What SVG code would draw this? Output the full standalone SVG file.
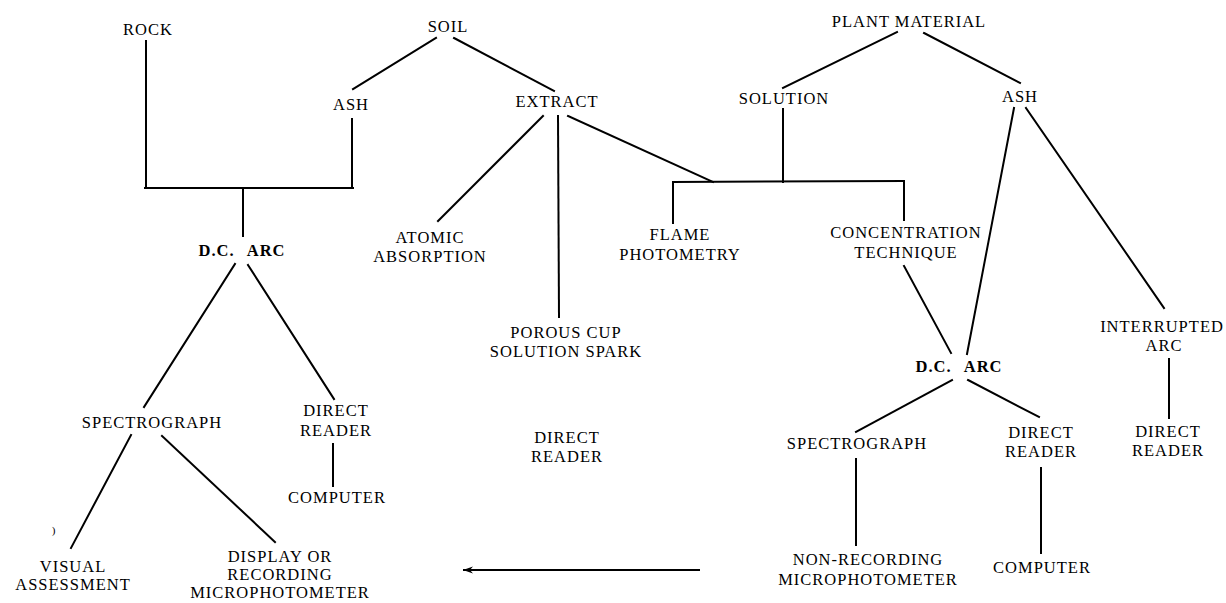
<svg xmlns="http://www.w3.org/2000/svg" width="1226" height="603" viewBox="0 0 1226 603">
<defs>
<style>
text{font-family:"Liberation Serif","Times New Roman",serif;font-size:16.5px;letter-spacing:1px;fill:#000;text-anchor:middle}
.b{font-weight:bold;word-spacing:8px}
#connectors line{stroke:#000;stroke-width:2;fill:none;stroke-linecap:square}
</style>
<marker id="ah" viewBox="0 0 10 8" refX="10" refY="4" markerWidth="10" markerHeight="8" markerUnits="userSpaceOnUse" orient="auto">
<path d="M10,4 L0,0.5 L3,4 L0,7.5 Z" fill="#000"/>
</marker>
</defs>
<rect width="1226" height="603" fill="#fff"/>
<g id="connectors">
<line x1="146" y1="41" x2="146" y2="188"/>
<line x1="145" y1="188" x2="353" y2="188"/>
<line x1="352" y1="119" x2="352" y2="188"/>
<line x1="243" y1="188" x2="243" y2="236"/>
<line x1="436" y1="38" x2="353" y2="89"/>
<line x1="454" y1="38" x2="554" y2="91"/>
<line x1="543" y1="116" x2="438" y2="221"/>
<line x1="558" y1="116" x2="559" y2="317"/>
<line x1="568" y1="116" x2="713" y2="182"/>
<line x1="673" y1="182" x2="904" y2="181"/>
<line x1="673" y1="182" x2="673" y2="223"/>
<line x1="783" y1="109" x2="783" y2="182"/>
<line x1="904" y1="181" x2="904" y2="220"/>
<line x1="783" y1="88" x2="897" y2="32"/>
<line x1="924" y1="33" x2="1020" y2="83"/>
<line x1="1014" y1="108" x2="967" y2="354"/>
<line x1="1026" y1="108" x2="1164" y2="308"/>
<line x1="904" y1="266" x2="951" y2="353"/>
<line x1="1169" y1="359" x2="1169" y2="418"/>
<line x1="952" y1="380" x2="856" y2="432"/>
<line x1="968" y1="380" x2="1039" y2="417"/>
<line x1="856" y1="459" x2="856" y2="545"/>
<line x1="1041" y1="468" x2="1041" y2="553"/>
<line x1="235" y1="264" x2="144" y2="407"/>
<line x1="248" y1="265" x2="334" y2="399"/>
<line x1="333" y1="444" x2="333" y2="486"/>
<line x1="131" y1="435" x2="71" y2="548"/>
<line x1="162" y1="436" x2="275" y2="542"/>
<line x1="700" y1="570" x2="463" y2="570" marker-end="url(#ah)" style="stroke-linecap:butt"/>
</g>
<g id="rock"><text x="148" y="35">ROCK</text></g>
<g id="soil"><text x="448" y="32">SOIL</text></g>
<g id="ash1"><text x="351" y="110">ASH</text></g>
<g id="extract"><text x="557" y="107">EXTRACT</text></g>
<g id="solution"><text x="784" y="104">SOLUTION</text></g>
<g id="plant"><text x="909" y="27">PLANT MATERIAL</text></g>
<g id="ash2"><text x="1020" y="102">ASH</text></g>
<g id="dcarc1"><text class="b" x="242" y="256">D.C. ARC</text></g>
<g id="atomic"><text x="430" y="243">ATOMIC</text><text x="430" y="262">ABSORPTION</text></g>
<g id="flame"><text x="680" y="240">FLAME</text><text x="680" y="260">PHOTOMETRY</text></g>
<g id="concentration"><text x="906" y="238">CONCENTRATION</text><text x="906" y="258">TECHNIQUE</text></g>
<g id="porous"><text x="566" y="338">POROUS CUP</text><text x="566" y="357">SOLUTION SPARK</text></g>
<g id="interrupted"><text x="1162" y="332">INTERRUPTED</text><text x="1164" y="351">ARC</text></g>
<g id="dcarc2"><text class="b" x="959" y="372">D.C. ARC</text></g>
<g id="spectro1"><text x="152" y="428">SPECTROGRAPH</text></g>
<g id="direct1"><text x="336" y="416">DIRECT</text><text x="336" y="436">READER</text></g>
<g id="computer1"><text x="337" y="503">COMPUTER</text></g>
<g id="direct-mid"><text x="567" y="443">DIRECT</text><text x="567" y="462">READER</text></g>
<g id="spectro2"><text x="857" y="449">SPECTROGRAPH</text></g>
<g id="direct2"><text x="1041" y="438">DIRECT</text><text x="1041" y="457">READER</text></g>
<g id="direct3"><text x="1168" y="437">DIRECT</text><text x="1168" y="456">READER</text></g>
<g id="visual"><text x="73" y="572">VISUAL</text><text x="73" y="590">ASSESSMENT</text></g>
<g id="display"><text x="280" y="562">DISPLAY OR</text><text x="280" y="580">RECORDING</text><text x="280" y="598">MICROPHOTOMETER</text></g>
<g id="nonrec"><text x="868" y="565">NON-RECORDING</text><text x="868" y="585">MICROPHOTOMETER</text></g>
<g id="computer2"><text x="1042" y="573">COMPUTER</text></g>
<g id="mark"><text x="54" y="534" style="font-size:11px">)</text></g>
</svg>
